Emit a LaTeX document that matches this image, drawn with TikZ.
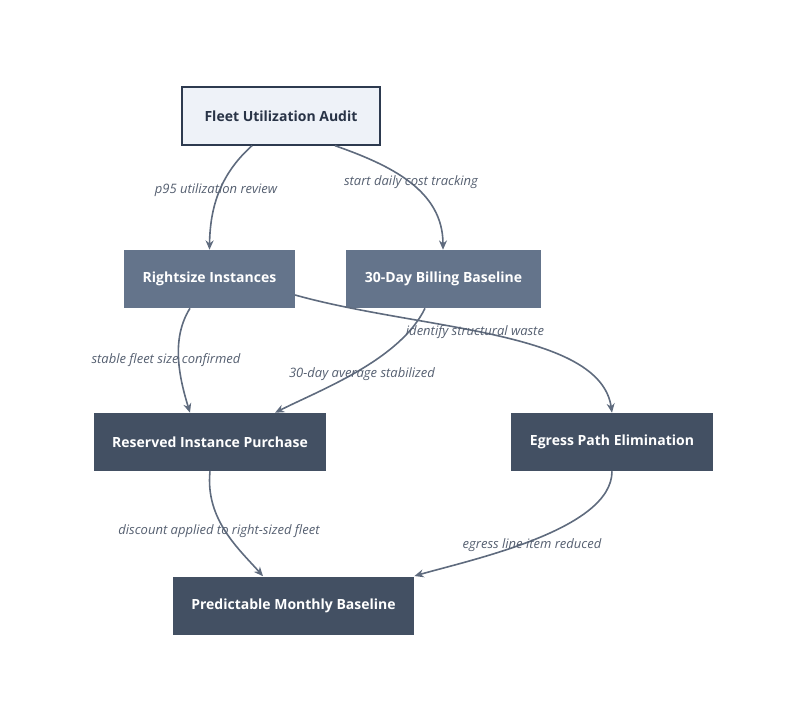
\documentclass[tikz,border=0pt]{standalone}
\usepackage{fontspec}
\setmainfont{Open Sans}
\usetikzlibrary{arrows.meta}
\definecolor{lightfill}{HTML}{EEF2F8}
\definecolor{darkline}{HTML}{2D3A4F}
\definecolor{midfill}{HTML}{64748B}
\definecolor{darkfill}{HTML}{435063}
\definecolor{edgec}{HTML}{5F6B7E}
\definecolor{labc}{HTML}{555F70}
\begin{document}
\begin{tikzpicture}[x=0.75pt,y=-0.75pt,
  box/.style={draw=none,minimum height=43.5pt,font=\bfseries\fontsize{10.5}{12}\selectfont,inner sep=0pt},
  light/.style={box,fill=lightfill,draw=darkline,line width=1pt,text=darkline!90!black},
  mid/.style={box,fill=midfill,text=white},
  dark/.style={box,fill=darkfill,text=white},
  edge/.style={draw=edgec,line width=1.2pt,-{Stealth[length=7pt,width=6pt]}},
  lab/.style={font=\itshape\fontsize{9.75}{11}\selectfont,text=labc,inner sep=1pt}]
\useasboundingbox (0,0) rectangle (800,722);
\node[light,minimum width=148.5pt] (a) at (281,116) {Fleet Utilization Audit};
\node[mid,minimum width=128pt] (r) at (209.5,279) {Rightsize Instances};
\node[mid,minimum width=146pt] (b) at (443.5,279) {30-Day Billing Baseline};
\node[dark,minimum width=174pt] (ri) at (210,442) {Reserved Instance Purchase};
\node[dark,minimum width=151.5pt] (e) at (612,442) {Egress Path Elimination};
\node[dark,minimum width=181pt] (p) at (293.5,605.5) {Predictable Monthly Baseline};
\draw[edge] (a.south -| 252,0) .. controls (225,170) and (210,200) .. (r.north);
\draw[edge] (a.south -| 335,0) .. controls (390,165) and (443,190) .. (b.north -| 443,0);
\draw[edge] (r.south -| 190,0) .. controls (170,340) and (180,380) .. (ri.north -| 190,0);
\draw[edge] (b.south -| 425,0) .. controls (400,360) and (320,390) .. (ri.north -| 275,0);
\draw[edge] (r.south east |- 0,295) .. controls (420,330) and (600,330) .. (e.north);
\draw[edge] (ri.south -| 210,0) .. controls (205,520) and (240,550) .. (p.north -| 263,0);
\draw[edge] (e.south) .. controls (612,530) and (470,560) .. (p.north east |- 0,576);
\node[lab] (l1) at (216,190) {p95 utilization review};
\node[lab] (l2) at (411,182) {start daily cost tracking};
\node[lab] (l3) at (166,360) {stable fleet size confirmed};
\node[lab] (l4) at (362,374) {30-day average stabilized};
\node[lab] (l5) at (475,332) {identify structural waste};
\node[lab] (l6) at (219,531) {discount applied to right-sized fleet};
\node[lab] (l7) at (532,545) {egress line item reduced};
\end{tikzpicture}
\end{document}
